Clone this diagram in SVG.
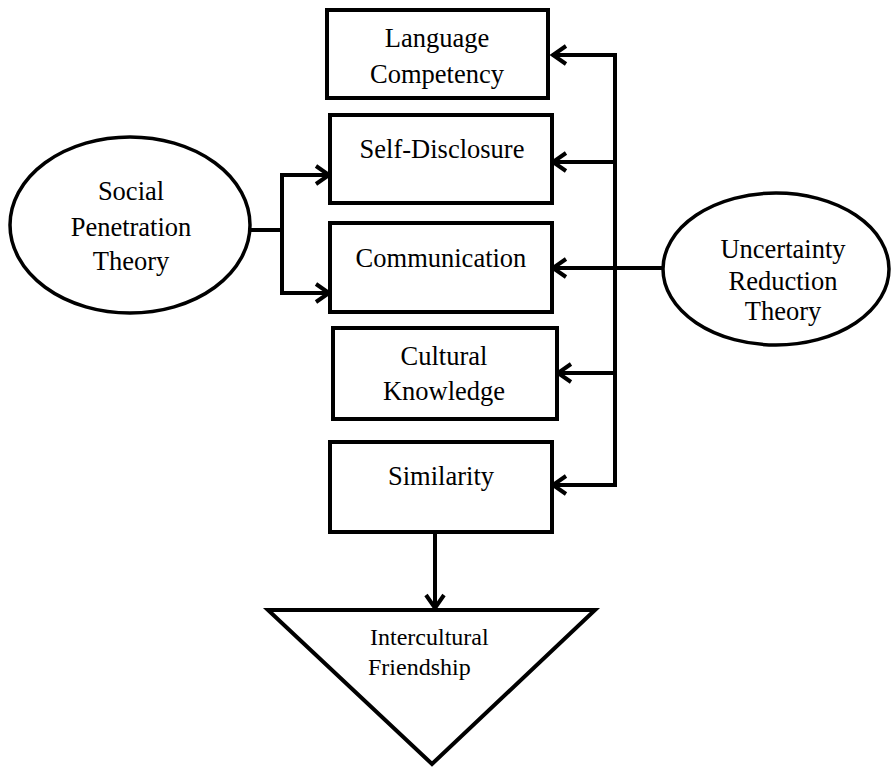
<svg xmlns="http://www.w3.org/2000/svg" width="891" height="767" viewBox="0 0 891 767">
<style>
.box{fill:#fff;stroke:#000;stroke-width:4}
.ell{fill:#fff;stroke:#000;stroke-width:3.5}
.ln{fill:none;stroke:#000;stroke-width:4;stroke-linejoin:miter}
.ah{fill:none;stroke:#000;stroke-width:4;stroke-linecap:butt;stroke-linejoin:miter}
</style>
<rect width="891" height="767" fill="#fff"/>
<g id="connectors">
  <polyline class="ln" points="552,55 615,55 615,485 552,485"/>
  <line class="ln" x1="615" y1="162" x2="552" y2="162"/>
  <line class="ln" x1="663" y1="268" x2="552" y2="268"/>
  <line class="ln" x1="615" y1="373" x2="557" y2="373"/>
  <polyline class="ln" points="250,230 282,230"/>
  <polyline class="ln" points="330,175 282,175 282,293 330,293"/>
  <line class="ln" x1="435" y1="532" x2="435" y2="608"/>
  <polyline class="ah" points="566,46 553,55 566,64"/>
  <polyline class="ah" points="566,153 553,162 566,171"/>
  <polyline class="ah" points="566,259 553,268 566,277"/>
  <polyline class="ah" points="571,364 558,373 571,382"/>
  <polyline class="ah" points="566,476 553,485 566,494"/>
  <polyline class="ah" points="316,166 329,175 316,184"/>
  <polyline class="ah" points="316,284 329,293 316,302"/>
  <polyline class="ah" points="426,595 435,608 444,595"/>
</g>
<g font-family="Liberation Serif, serif" font-size="26.5" fill="#000" text-anchor="middle">
<g id="language-competency">
  <rect class="box" x="327" y="10" width="221" height="88"/>
  <text x="437" y="47">Language</text>
  <text x="437" y="83">Competency</text>
</g>
<g id="self-disclosure">
  <rect class="box" x="330" y="115" width="222" height="88"/>
  <text x="442" y="158">Self-Disclosure</text>
</g>
<g id="communication">
  <rect class="box" x="330" y="223" width="222" height="89"/>
  <text x="441" y="267">Communication</text>
</g>
<g id="cultural-knowledge">
  <rect class="box" x="333" y="328" width="224" height="91"/>
  <text x="444" y="365">Cultural</text>
  <text x="444" y="400">Knowledge</text>
</g>
<g id="similarity">
  <rect class="box" x="330" y="442" width="222" height="90"/>
  <text x="441" y="485">Similarity</text>
</g>
<g id="social-penetration-theory">
  <ellipse class="ell" cx="130" cy="225" rx="120" ry="88"/>
  <text x="131" y="200">Social</text>
  <text x="131" y="236">Penetration</text>
  <text x="131" y="270">Theory</text>
</g>
<g id="uncertainty-reduction-theory">
  <ellipse class="ell" cx="776" cy="269" rx="113" ry="76"/>
  <text x="783" y="258">Uncertainty</text>
  <text x="783" y="290">Reduction</text>
  <text x="783" y="320">Theory</text>
</g>
<g id="intercultural-friendship">
  <polygon class="box" points="268,610 595,610 432,764"/>
  <text x="370" y="645" font-size="24" text-anchor="start">Intercultural</text>
  <text x="368" y="675" font-size="24" text-anchor="start">Friendship</text>
</g>
</g>
</svg>
